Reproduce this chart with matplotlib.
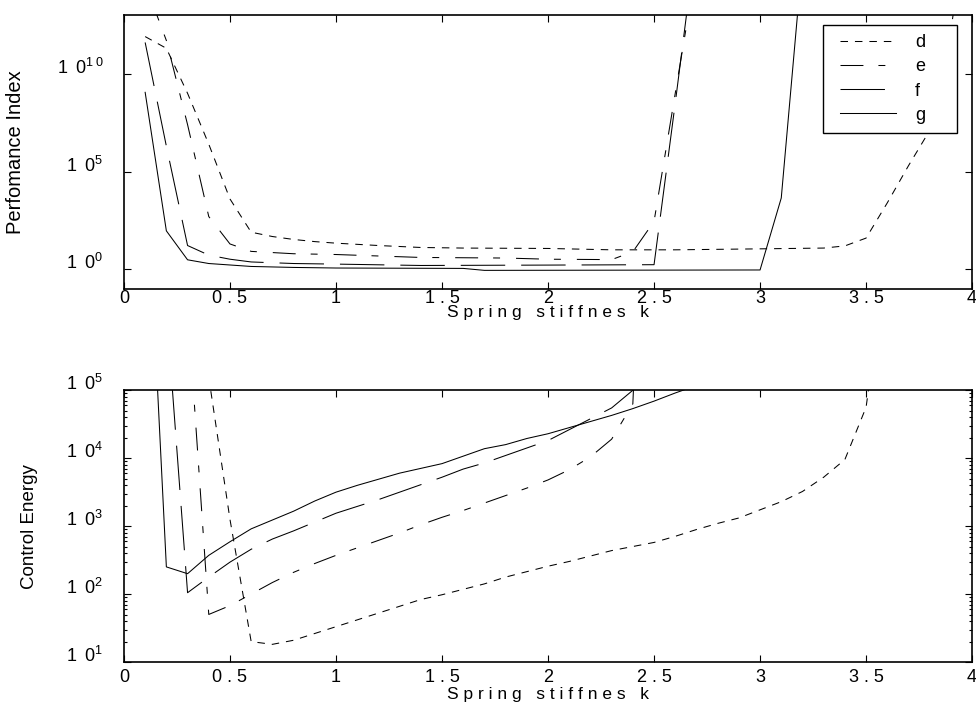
import matplotlib

matplotlib.use("Agg")
import matplotlib.pyplot as plt
import numpy as np
from matplotlib.legend_handler import HandlerLine2D
from matplotlib.lines import Line2D
from matplotlib.ticker import FixedLocator, FixedFormatter, NullLocator, LogLocator

plt.rcParams["font.family"] = ["Liberation Sans", "DejaVu Sans"]
plt.rcParams["mathtext.default"] = "regular"
plt.rcParams["lines.scale_dashes"] = False

# --- Datos (exponentes log10) ---------------------------------------------
# Panel superior: Performance Index
k_d_top = [0.1, 0.2, 0.3, 0.4, 0.5, 0.6, 0.7, 0.8, 0.9, 1.0, 1.2, 1.4, 1.6, 2.0,
           2.3, 2.6, 3.0, 3.3, 3.4, 3.5, 3.6, 3.7, 3.8, 3.9, 4.0]
pi_d_exp = [11.9, 11.3, 9.0, 6.4, 3.6, 1.9, 1.68, 1.53, 1.42, 1.34, 1.22, 1.12, 1.09, 1.07,
            1.0, 1.0, 1.05, 1.09, 1.2, 1.6, 3.4, 5.3, 7.1, 12.2, 20.0]
k_e_top = [0.1, 0.2, 0.3, 0.4, 0.5, 0.6, 0.8, 1.0, 1.4, 1.8, 2.0, 2.3, 2.4, 2.5, 2.6, 2.7]
pi_e_exp = [14.6, 11.7, 7.4, 2.7, 1.3, 0.92, 0.8, 0.76, 0.61, 0.58, 0.52, 0.5, 0.9, 2.45, 9.0, 15.5]
k_f_top = [0.1, 0.2, 0.3, 0.4, 0.5, 0.6, 0.8, 1.0, 1.4, 2.0, 2.5, 2.6, 2.7]
pi_f_exp = [11.6, 6.3, 1.22, 0.73, 0.52, 0.38, 0.3, 0.27, 0.2, 0.22, 0.24, 8.5, 17.0]
k_g_top = [0.1, 0.2, 0.3, 0.4, 0.6, 0.8, 1.0, 1.6, 1.7, 3.0, 3.1, 3.2]
pi_g_exp = [9.05, 1.97, 0.49, 0.3, 0.15, 0.1, 0.07, 0.05, -0.05, -0.03, 3.65, 15.9]

# Panel inferior: Control Energy
k_d_bot = [0.3, 0.4, 0.5, 0.6, 0.7, 0.8, 0.9, 1.0, 1.1, 1.2, 1.3, 1.4, 1.5, 1.6, 1.7, 1.8,
           1.9, 2.0, 2.1, 2.2, 2.3, 2.4, 2.5, 2.6, 2.7, 2.8, 2.9, 3.0, 3.1, 3.2, 3.3, 3.4,
           3.5, 3.6]
ce_d_exp = [7.3, 5.19, 3.1, 1.30, 1.26, 1.32, 1.42, 1.52, 1.62, 1.72, 1.82, 1.92, 1.99, 2.07,
            2.15, 2.25, 2.33, 2.41, 2.48, 2.56, 2.64, 2.70, 2.76, 2.85, 2.95, 3.04, 3.12,
            3.24, 3.36, 3.51, 3.72, 3.98, 4.75, 7.0]
k_e_bot = [0.2, 0.3, 0.4, 0.5, 0.6, 0.7, 0.8, 0.9, 1.0, 1.1, 1.2, 1.3, 1.4, 1.5, 1.6, 1.7,
           1.8, 1.9, 2.0, 2.1, 2.2, 2.3, 2.4, 2.5]
ce_e_exp = [8.0, 6.26, 1.70, 1.83, 2.0, 2.17, 2.32, 2.45, 2.57, 2.68, 2.79, 2.90, 3.02, 3.13,
            3.23, 3.34, 3.45, 3.56, 3.68, 3.83, 4.02, 4.28, 4.8, 12.0]
k_f_bot = [0.1, 0.2, 0.3, 0.4, 0.5, 0.6, 0.7, 0.8, 0.9, 1.0, 1.1, 1.2, 1.3, 1.4, 1.5, 1.6,
           1.7, 1.8, 1.9, 2.0, 2.1, 2.2, 2.3, 2.4, 2.5]
ce_f_exp = [9.5, 6.2, 2.02, 2.25, 2.47, 2.66, 2.81, 2.93, 3.06, 3.19, 3.29, 3.39, 3.50, 3.61,
            3.72, 3.84, 3.93, 4.04, 4.15, 4.26, 4.42, 4.58, 4.74, 5.0, 5.8]
k_g_bot = [0.1, 0.2, 0.3, 0.4, 0.5, 0.6, 0.7, 0.8, 0.9, 1.0, 1.1, 1.2, 1.3, 1.4, 1.5, 1.6,
           1.7, 1.8, 1.9, 2.0, 2.1, 2.2, 2.3, 2.4, 2.5, 2.6, 2.7]
ce_g_exp = [8.7, 2.40, 2.30, 2.57, 2.77, 2.96, 3.09, 3.22, 3.37, 3.5, 3.6, 3.69, 3.78, 3.85,
            3.92, 4.03, 4.14, 4.20, 4.29, 4.36, 4.45, 4.54, 4.63, 4.73, 4.84, 4.96, 5.07]

series_names = ["d", "e", "f", "g"]
xtick_vals = [0, 0.5, 1, 1.5, 2, 2.5, 3, 3.5, 4]
xtick_labels = ["0", "0 . 5", "1", "1 . 5", "2", "2 . 5", "3", "3 . 5", "4"]
top_exps = [0, 5, 10]
bot_exps = [1, 2, 3, 4, 5]
xlabel_txt = "S p r i n g   s t i f f n e s   k"

# Estilos de línea (en puntos, sin escalar por grosor)
STYLES = {
    "d": (0, (5.4, 5.0)),
    "e": (0, (16.5, 10.8, 5.0, 11.5)),
    "f": (0, (32.0, 11.5)),
    "g": "-",
}
YLAB_FONT = ["Liberation Sans Narrow", "Liberation Sans", "DejaVu Sans"]


def ylabels(exps):
    # "1 0" con exponente, espaciado como en el original
    return [r"$1\ \,0^{%s}$" % r"\,".join(str(e)) for e in exps]


fig = plt.figure(figsize=(9.76, 7.17), dpi=100)
ax1 = fig.add_axes([0.127, 0.597, 0.869, 0.382])
ax2 = fig.add_axes([0.127, 0.0767, 0.869, 0.379])

top_data = [(k_d_top, pi_d_exp), (k_e_top, pi_e_exp), (k_f_top, pi_f_exp), (k_g_top, pi_g_exp)]
bot_data = [(k_d_bot, ce_d_exp), (k_e_bot, ce_e_exp), (k_f_bot, ce_f_exp), (k_g_bot, ce_g_exp)]

for name, (xs, ys) in zip(series_names, top_data):
    ax1.plot(xs, 10.0 ** np.array(ys), color="black", lw=0.75, ls=STYLES[name], label=name)
for name, (xs, ys) in zip(series_names, bot_data):
    ax2.plot(xs, 10.0 ** np.array(ys), color="black", lw=0.75, ls=STYLES[name])

for ax in (ax1, ax2):
    ax.set_yscale("log")
    ax.set_xlim(0, 4)
    ax.xaxis.set_major_locator(FixedLocator(xtick_vals))
    ax.xaxis.set_major_formatter(FixedFormatter(xtick_labels))
    ax.tick_params(which="both", direction="in", top=True, right=True, width=0.8,
                   labelsize=13, colors="black")
    ax.tick_params(which="major", length=5)
    ax.tick_params(which="minor", length=2.5)
    ax.tick_params(axis="y", which="major", pad=15)
    for sp in ax.spines.values():
        sp.set_linewidth(1.2)

ax1.tick_params(axis="x", pad=1)
ax2.tick_params(axis="x", pad=5)

ax1.set_ylim(1e-1, 1e13)
ax1.yaxis.set_major_locator(FixedLocator([10.0 ** e for e in top_exps]))
ax1.yaxis.set_major_formatter(FixedFormatter(ylabels(top_exps)))
ax1.yaxis.set_minor_locator(NullLocator())
ax1.set_xlabel(xlabel_txt, fontsize=12.5)
ax1.xaxis.set_label_coords(0.5, -0.06)
ax1.set_ylabel("Perfomance Index", fontsize=14.5, family=YLAB_FONT)
ax1.yaxis.set_label_coords(-0.117, 0.5)

ax2.set_ylim(1e1, 1e5)
ax2.yaxis.set_major_locator(FixedLocator([10.0 ** e for e in bot_exps]))
ax2.yaxis.set_major_formatter(FixedFormatter(ylabels(bot_exps)))
ax2.yaxis.set_minor_locator(LogLocator(base=10, subs=np.arange(2, 10), numticks=20))
ax2.set_xlabel(xlabel_txt, fontsize=12.5)
ax2.xaxis.set_label_coords(0.5, -0.092)
ax2.set_ylabel("Control Energy", fontsize=13.5, family=YLAB_FONT)
ax2.yaxis.set_label_coords(-0.101, 0.5)

# Etiquetas del eje y algo por encima de la marca, como en el original
for ax in (ax1, ax2):
    for tick in ax.yaxis.get_major_ticks():
        tick.label1.set_verticalalignment("baseline")

leg = ax1.legend(loc="upper left", bbox_to_anchor=(0.8243, 0.5, 0.158, 0.4635),
                 mode="expand", borderaxespad=0, fontsize=13, handlelength=3.55,
                 handletextpad=1.05, labelspacing=0.4, borderpad=0.5,
                 fancybox=False, framealpha=1, edgecolor="black",
                 handler_map={Line2D: HandlerLine2D(xpad=0.45)})
leg.get_frame().set_linewidth(1.0)
leg.set_zorder(5)

fig.savefig("out.png", dpi=100, facecolor="white")
